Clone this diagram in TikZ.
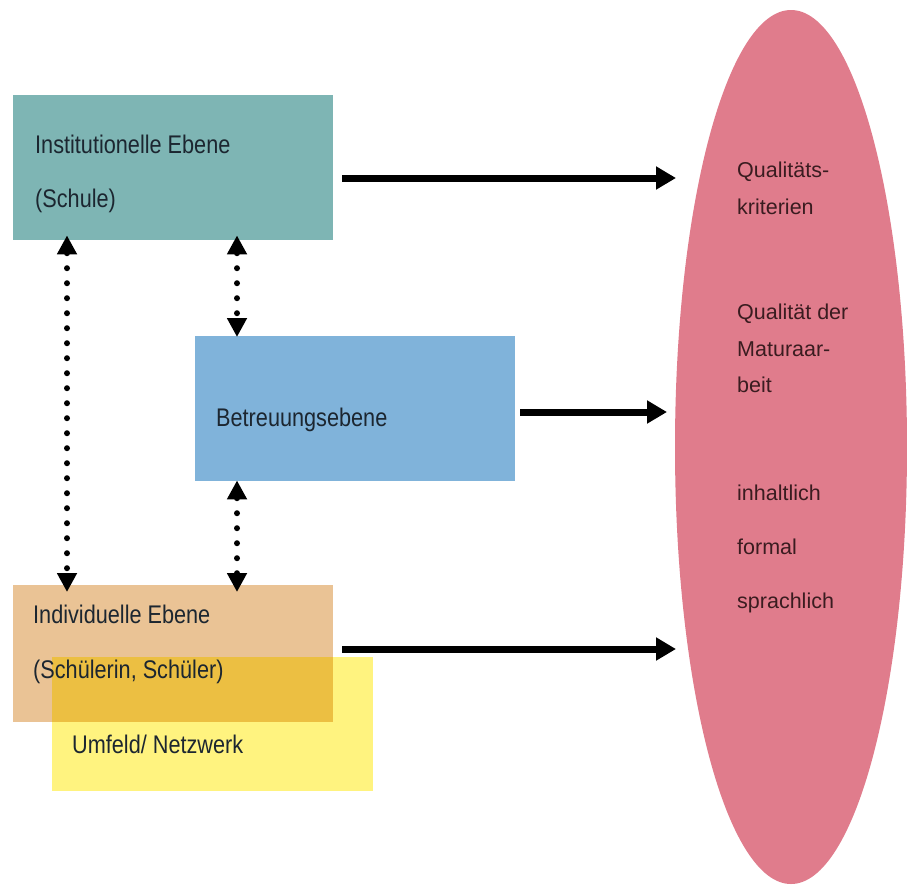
\documentclass[tikz,border=0pt]{standalone}
\usepackage{fontspec}
\setmainfont{Liberation Sans}
\newfontfamily\condfont[FakeStretch=0.85]{Liberation Sans}
\usetikzlibrary{arrows.meta,calc,shapes.geometric}
\definecolor{tealbox}{HTML}{7EB5B4}
\definecolor{bluebox}{HTML}{80B3DA}
\definecolor{orangebox}{HTML}{EAC395}
\definecolor{yellowbox}{HTML}{FFF37F}
\definecolor{overlapc}{HTML}{ECBF42}
\definecolor{ellc}{HTML}{E07C8C}
\definecolor{txtc}{HTML}{1C2630}
\definecolor{etxt}{HTML}{3A1C20}
\tikzset{
  box/.style={draw=none, rectangle, inner sep=0pt, anchor=north west},
  ltext/.style={anchor=base west, inner sep=0pt, text=txtc, font=\condfont\fontsize{25.5}{28}\selectfont},
  etext/.style={anchor=base west, inner sep=0pt, text=etxt, font=\fontsize{21.5}{24}\selectfont},
  bigarrow/.style={line width=7pt, -{Triangle[length=20pt,width=22pt]}},
  dotarrow/.style={line width=6pt, line cap=round, dash pattern=on 0pt off 15pt,
     {Triangle[length=19pt,width=19pt]}-{Triangle[length=19pt,width=19pt]}}
}
\begin{document}
\begin{tikzpicture}[x=1pt,y=-1pt]
\useasboundingbox (0,0) rectangle (907,884);
\fill[white] (0,0) rectangle (907,884);
% ellipse
\node[ellipse, fill=ellc, minimum width=232pt, minimum height=874pt, inner sep=0pt] (ell) at (791,447) {};
% boxes
\node[box, fill=tealbox, minimum width=320pt, minimum height=145pt] (teal) at (13,95) {};
\node[box, fill=bluebox, minimum width=320pt, minimum height=145pt] (blue) at (195,336) {};
\node[box, fill=yellowbox, minimum width=321pt, minimum height=134pt] (yellow) at (52,657) {};
\node[box, fill=orangebox, minimum width=320pt, minimum height=137pt] (orange) at (13,585) {};
\fill[overlapc] (yellow.north west) rectangle (orange.south east);
% texts
\node[ltext] (t1) at (35,153) {Institutionelle Ebene};
\node[ltext] (t2) at (35,207) {(Schule)};
\node[ltext] (t3) at (216,426) {Betreuungsebene};
\node[ltext] (t4) at (33,623) {Individuelle Ebene};
\node[ltext] (t5) at (33,678) {(Schülerin, Schüler)};
\node[ltext] (t6) at (72,753) {Umfeld/ Netzwerk};
\node[etext] (e1) at (737,177) {Qualitäts-};
\node[etext] (e2) at (737,214) {kriterien};
\node[etext] (e3) at (737,319) {Qualität der};
\node[etext] (e4) at (737,356) {Maturaar-};
\node[etext] (e5) at (737,392) {beit};
\node[etext] (e6) at (737,500) {inhaltlich};
\node[etext] (e7) at (737,554) {formal};
\node[etext] (e8) at (737,608) {sprachlich};
% arrow end points
\coordinate (a1) at (676,178);
\coordinate (a2) at (667,412);
\coordinate (a3) at (676,649);
\draw[bigarrow] ([xshift=9pt]teal.east |- a1) -- (a1);
\draw[bigarrow] ([xshift=5pt]blue.east |- a2) -- (a2);
\draw[bigarrow] ([xshift=9pt]orange.east |- a3) -- (a3);
% dotted double arrows
\coordinate (lx) at (67,0);
\coordinate (mx) at (237,0);
\draw[dotarrow] ([yshift=5pt]teal.south -| lx) -- ([yshift=-7pt]orange.north -| lx);
\draw[dotarrow] ([yshift=5pt]teal.south -| mx) -- ([yshift=-1pt]blue.north -| mx);
\draw[dotarrow] ([yshift=1pt]blue.south -| mx) -- ([yshift=-7pt]orange.north -| mx);
\end{tikzpicture}
\end{document}
